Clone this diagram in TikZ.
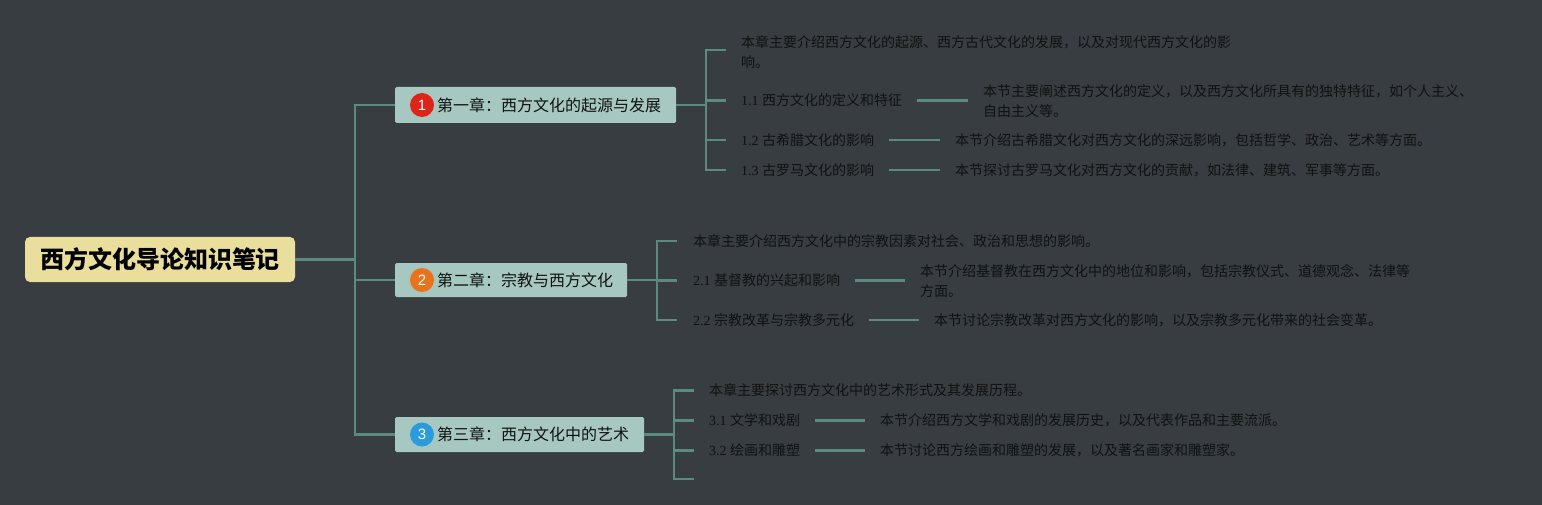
\documentclass[tikz,border=0pt]{standalone}
\usepackage{fontspec}
\setmainfont{Liberation Serif}
\newfontfamily\cjk{Noto Sans CJK SC}
\newfontfamily\badgefont{Liberation Sans}
\definecolor{bgc}{HTML}{373D40}
\definecolor{linec}{HTML}{5A8A80}
\definecolor{chfill}{HTML}{A6C8C0}
\definecolor{rootfill}{HTML}{E9DE9C}
\definecolor{txtc}{HTML}{111111}
\definecolor{bred}{HTML}{DE2418}
\definecolor{borange}{HTML}{E8731C}
\definecolor{bblue}{HTML}{2B9CDB}
\newcommand{\mylab}[2]{#1~{\cjk #2}}
\begin{document}
\begin{tikzpicture}[x=1pt,y=-1pt,
  conn/.style={draw=linec,line width=2.2pt},
  leafconn/.style={draw=linec,line width=2.2pt,shorten <=15pt,shorten >=15pt},
  rootbox/.style={fill=rootfill,rounded corners=5pt,minimum width=270pt,minimum height=45pt,inner sep=0pt,
    font=\cjk\bfseries\fontsize{24}{24}\selectfont,text=black},
  chbox/.style={fill=chfill,rounded corners=1.5pt,inner sep=0pt,anchor=west},
  badge/.style={circle,minimum size=24pt,inner sep=0pt,text=white,font=\badgefont\fontsize{15}{15}\selectfont},
  chtext/.style={anchor=west,inner sep=0pt,text=txtc,font=\cjk\fontsize{16}{16}\selectfont},
  item/.style={anchor=west,inner sep=0pt,text=txtc,align=left,font=\cjk\fontsize{14}{20}\selectfont},
  labitem/.style={anchor=west,inner sep=0pt,text=txtc,font=\fontsize{14}{20}\selectfont}
]
\fill[bgc] (0,0) rectangle (1542,505);
\useasboundingbox (0,0) rectangle (1542,505);

% root
\node[rootbox] (root) at (160,259.5) {西方文化导论知识笔记};
\coordinate (t) at (355,259.5);

% chapter boxes
\node[chbox,minimum width=281pt,minimum height=36pt] (ch1) at (395,105) {};
\node[badge,fill=bred] (bd1) at (422,105) {1};
\node[chtext] (ch1t) at (437,105) {第一章：西方文化的起源与发展};

\node[chbox,minimum width=232pt,minimum height=34pt] (ch2) at (395,280) {};
\node[badge,fill=borange] (bd2) at (422,280) {2};
\node[chtext] (ch2t) at (437,280) {第二章：宗教与西方文化};

\node[chbox,minimum width=249pt,minimum height=35pt] (ch3) at (395,434.5) {};
\node[badge,fill=bblue] (bd3) at (422,434.5) {3};
\node[chtext] (ch3t) at (437,434.5) {第三章：西方文化中的艺术};

\draw[conn] (root.east) -- (t);
\draw[conn] (ch1.west) -| (t) |- (ch3.west);
\draw[conn] (t) |- (ch2.west);

% chapter 1
\coordinate (j1) at (706,105);
\node[item] (c10) at (741,52) {本章主要介绍西方文化的起源、西方古代文化的发展，以及对现代西方文化的影\\响。};
\node[labitem] (c11) at (741,100.5) {\mylab{1.1}{西方文化的定义和特征}};
\node[labitem] (c12) at (741,140) {\mylab{1.2}{古希腊文化的影响}};
\node[labitem] (c13) at (741,170) {\mylab{1.3}{古罗马文化的影响}};
\node[item] (l11) at (983,101) {本节主要阐述西方文化的定义，以及西方文化所具有的独特特征，如个人主义、\\自由主义等。};
\node[item] (l12) at (955,140) {本节介绍古希腊文化对西方文化的深远影响，包括哲学、政治、艺术等方面。};
\node[item] (l13) at (955,170) {本节探讨古罗马文化对西方文化的贡献，如法律、建筑、军事等方面。};
\draw[conn] (ch1.east) -- (j1);
\draw[conn] (j1) |- ([xshift=-15pt]c10.west |- 0,50);
\draw[conn] (j1) |- ([xshift=-15pt]c11.west);
\draw[conn] (j1) |- ([xshift=-15pt]c12.west);
\draw[conn] (j1) |- ([xshift=-15pt]c13.west);
\draw[leafconn] (c11.east) -- (c11.east -| l11.west);
\draw[leafconn] (c12.east) -- (c12.east -| l12.west);
\draw[leafconn] (c13.east) -- (c13.east -| l13.west);

% chapter 2
\coordinate (j2) at (657,280);
\node[item] (c20) at (693,241) {本章主要介绍西方文化中的宗教因素对社会、政治和思想的影响。};
\node[labitem] (c21) at (693,280.5) {\mylab{2.1}{基督教的兴起和影响}};
\node[labitem] (c22) at (693,320) {\mylab{2.2}{宗教改革与宗教多元化}};
\node[item] (l21) at (920,281) {本节介绍基督教在西方文化中的地位和影响，包括宗教仪式、道德观念、法律等\\方面。};
\node[item] (l22) at (934,320) {本节讨论宗教改革对西方文化的影响，以及宗教多元化带来的社会变革。};
\draw[conn] (ch2.east) -- (j2);
\draw[conn] (j2) |- ([xshift=-16pt]c20.west);
\draw[conn] (j2) |- ([xshift=-16pt]c21.west);
\draw[conn] (j2) |- ([xshift=-16pt]c22.west);
\draw[leafconn] (c21.east) -- (c21.east -| l21.west);
\draw[leafconn] (c22.east) -- (c22.east -| l22.west);

% chapter 3
\coordinate (j3) at (674,434.5);
\node[item] (c30) at (709,390.5) {本章主要探讨西方文化中的艺术形式及其发展历程。};
\node[labitem] (c31) at (709,420.5) {\mylab{3.1}{文学和戏剧}};
\node[labitem] (c32) at (709,450.5) {\mylab{3.2}{绘画和雕塑}};
\coordinate (e33) at (694,479);
\node[item] (l31) at (880,420.5) {本节介绍西方文学和戏剧的发展历史，以及代表作品和主要流派。};
\node[item] (l32) at (880,450.5) {本节讨论西方绘画和雕塑的发展，以及著名画家和雕塑家。};
\draw[conn] (ch3.east) -- (j3);
\draw[conn] (j3) |- ([xshift=-15pt]c30.west);
\draw[conn] (j3) |- ([xshift=-15pt]c31.west);
\draw[conn] (j3) |- ([xshift=-15pt]c32.west);
\draw[conn] (j3) |- (e33);
\draw[leafconn] (c31.east) -- (c31.east -| l31.west);
\draw[leafconn] (c32.east) -- (c32.east -| l32.west);
\end{tikzpicture}
\end{document}
